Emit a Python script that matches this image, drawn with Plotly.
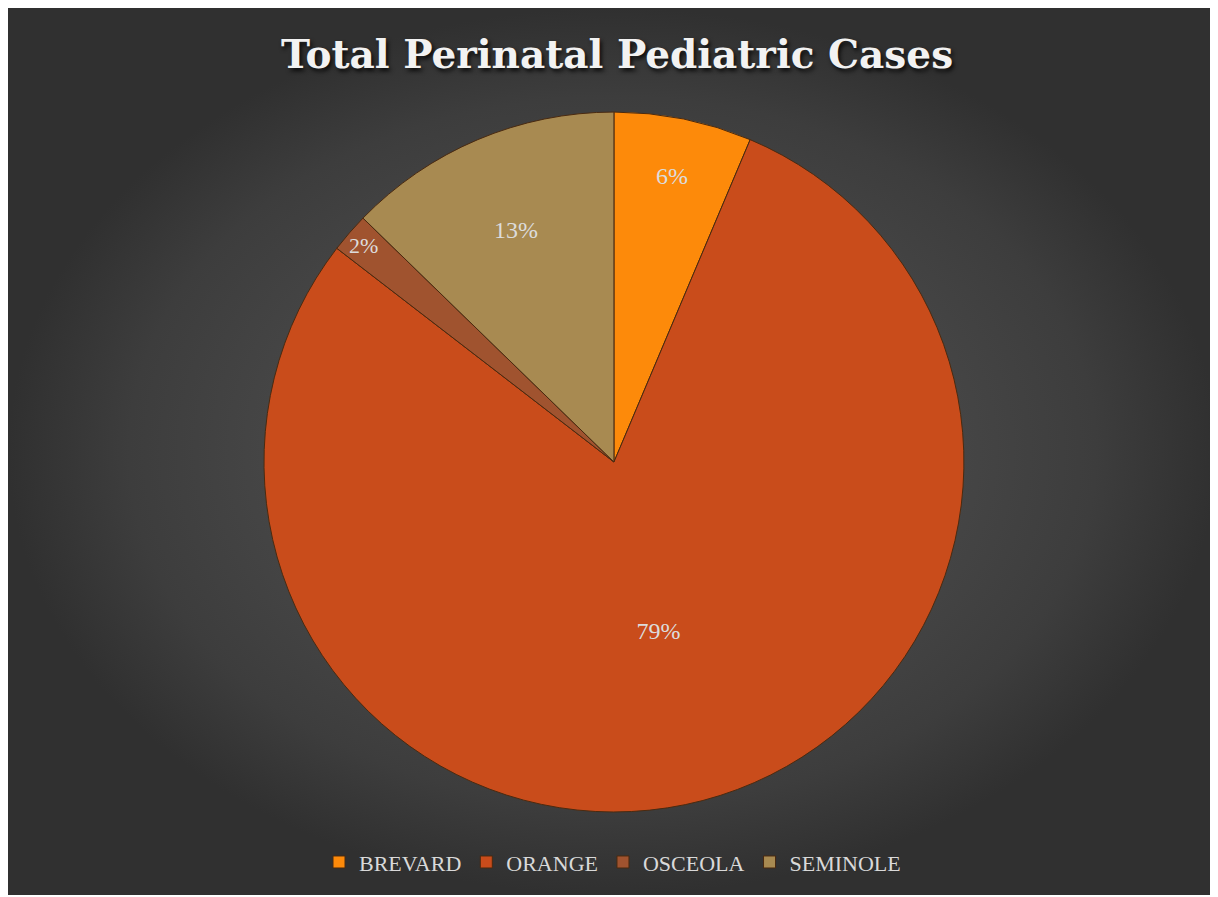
import plotly.graph_objects as go

counties = ["BREVARD", "ORANGE", "OSCEOLA", "SEMINOLE"]
cases = [7, 87, 2, 14]
slice_colors = ["#fd8a0a", "#c94c1b", "#a0532f", "#a88a51"]

W, H = 1218, 897
fig = go.Figure()

# background with radial gradient (plot area)
fig.add_trace(go.Scatter(
    x=[0, 1, 1, 0, 0], y=[0, 0, 1, 1, 0], fill="toself", mode="none",
    fillgradient=dict(type="radial",
                      colorscale=[[0, "#4b4b4b"], [0.55, "#464646"], [0.8, "#3d3d3d"], [1, "#303030"]]),
    hoverinfo="skip", showlegend=False))

fig.add_trace(go.Pie(
    labels=counties, values=cases, sort=False, direction="clockwise", rotation=0,
    marker=dict(colors=slice_colors, line=dict(color="#4a2a10", width=1)),
    texttemplate="%{percent:.0%}", textposition="inside",
    insidetextorientation="horizontal",
    textfont=dict(family="Liberation Serif", size=24, color="#dcdcdc"),
    domain=dict(x=[0.2117, 0.7907], y=[0.0936, 0.8827]),
    hoverinfo="label+value+percent"))

fig.update_layout(
    width=W, height=H,
    margin=dict(l=0, r=9, t=0, b=10),
    paper_bgcolor="white", plot_bgcolor="rgba(0,0,0,0)",
    xaxis=dict(visible=False, range=[0, 1], fixedrange=True),
    yaxis=dict(visible=False, range=[0, 1], fixedrange=True),
    title=dict(text="Total Perinatal Pediatric Cases", x=0.5, xanchor="center",
               y=0.948, yanchor="middle",
               font=dict(family="DejaVu Serif", size=39, color="#f2f2f2", weight="bold",
                         shadow="2px 3px 4px rgba(0,0,0,0.8)")),
    legend=dict(orientation="h", x=0.5, xanchor="center", y=0.037, yanchor="middle",
                font=dict(family="Liberation Serif", size=22, color="#d9d9d9"),
                bgcolor="rgba(0,0,0,0)", itemwidth=30),
    showlegend=True,
)

fig.write_html("out.html")
